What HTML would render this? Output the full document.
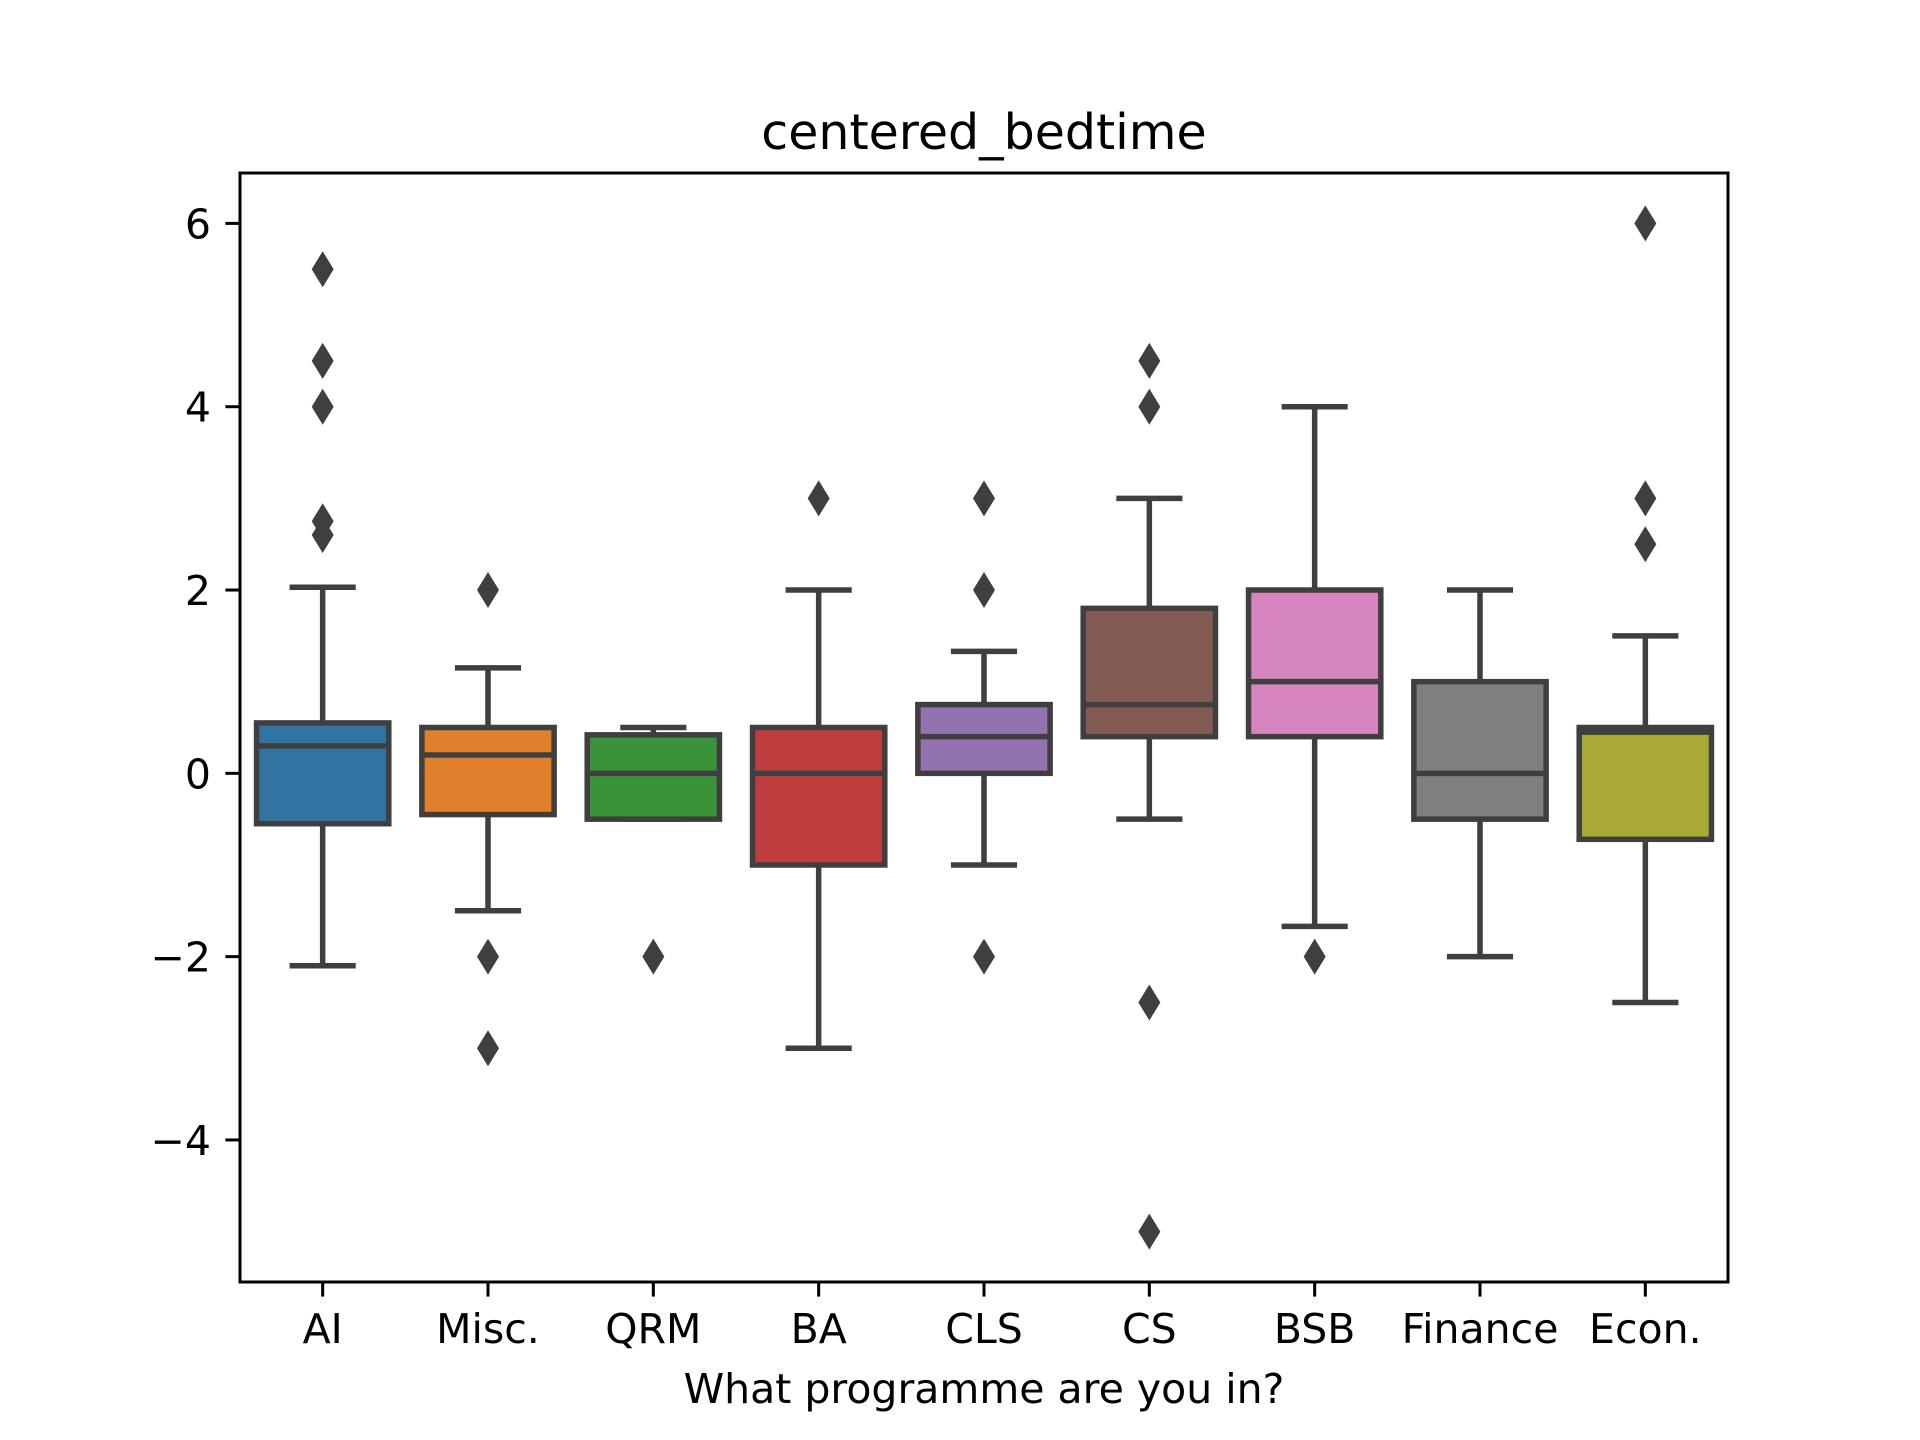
<!DOCTYPE html>
<html><head><meta charset="utf-8"><style>body{margin:0;background:#fff}svg{display:block}text{font-family:"DejaVu Sans","Liberation Sans",sans-serif;fill:#000}</style></head>
<body>
<svg id="chart" width="1920" height="1440" viewBox="0 0 1920 1440" xmlns="http://www.w3.org/2000/svg">
<rect width="1920" height="1440" fill="#fff"/>
<text x="984" y="149" font-size="49" text-anchor="middle">centered_bedtime</text>
<text x="984" y="1403" font-size="41" text-anchor="middle">What programme are you in?</text>
<g id="plot"></g>
<rect x="240" y="173" width="1488" height="1109" fill="none" stroke="#000" stroke-width="3"/>
</svg>
<script>
const categories=["AI","Misc.","QRM","BA","CLS","CS","BSB","Finance","Econ."];
const q1=[-0.55,-0.45,-0.5,-1,0,0.4,0.4,-0.5,-0.72];
const q3=[0.55,0.5,0.42,0.5,0.75,1.8,2,1,0.5];
const medians=[0.3,0.2,0,0,0.4,0.75,1,0,0.45];
const whiskerLow=[-2.1,-1.5,-0.5,-3,-1,-0.5,-1.67,-2,-2.5];
const whiskerHigh=[2.03,1.15,0.5,2,1.33,3,4,2,1.5];
const outliers=[[5.5,4.5,4,2.75,2.6],[2,-2,-3],[-2],[3],[3,2,-2],[4.5,4,-2.5,-5],[-2],[],[6,3,2.5]];
const colors=["#3274a1","#e1812c","#3a923a","#c03d3e","#9372b2","#845b53","#d684bd","#7f7f7f","#a9aa35"];
const yTicks=[-4,-2,0,2,4,6];
const yMin=-5.55,yMax=6.55;
const L=240,R=1728,T=173,B=1282;
const NS="http://www.w3.org/2000/svg";
const y=v=>B-(v-yMin)/(yMax-yMin)*(B-T);
const band=(R-L)/categories.length;
const x=i=>L+band*(i+0.5);
const g=document.getElementById('plot');
function mk(tag,attrs){const e=document.createElementNS(NS,tag);for(const k in attrs)e.setAttribute(k,attrs[k]);g.appendChild(e);return e;}
const lc="#3f3f3f",lw=5.5;
yTicks.forEach(t=>{
 const l=mk('line',{x1:L-14.6,x2:L,y1:y(t),y2:y(t),stroke:'#000','stroke-width':3});
 
 
 const tx=mk('text',{x:L-29,y:y(t)+15,'font-size':41,'text-anchor':'end'});
 tx.textContent=(t<0?'\u2212':'')+Math.abs(t);
 
 
});
categories.forEach((c,i)=>{
 const cx=x(i),hw=band*0.4,cw=band*0.2;
 const tk=mk('line',{x1:cx,x2:cx,y1:B,y2:B+14.6,stroke:'#000','stroke-width':3});
 
 
 const tl=mk('text',{x:cx,y:B+61,'font-size':41,'text-anchor':'middle'});
 tl.textContent=c;
 
 
 const w1=mk('line',{x1:cx,x2:cx,y1:y(whiskerLow[i]),y2:y(q1[i]),stroke:lc,'stroke-width':lw});
 
 
 const w2=mk('line',{x1:cx,x2:cx,y1:y(whiskerHigh[i]),y2:y(q3[i]),stroke:lc,'stroke-width':lw});
 
 
 const c1=mk('line',{x1:cx-cw,x2:cx+cw,y1:y(whiskerLow[i]),y2:y(whiskerLow[i]),stroke:lc,'stroke-width':lw});
 
 
 const c2=mk('line',{x1:cx-cw,x2:cx+cw,y1:y(whiskerHigh[i]),y2:y(whiskerHigh[i]),stroke:lc,'stroke-width':lw});
 
 
 const bx=mk('rect',{x:cx-hw,y:y(q3[i]),width:2*hw,height:y(q1[i])-y(q3[i]),fill:colors[i],stroke:lc,'stroke-width':lw});
 
 
 const md=mk('line',{x1:cx-hw,x2:cx+hw,y1:y(medians[i]),y2:y(medians[i]),stroke:lc,'stroke-width':lw});
 
 
 outliers[i].forEach(o=>{
  const yy=y(o);
  const p=mk('polygon',{points:`${cx},${yy-18} ${cx+11},${yy} ${cx},${yy+18} ${cx-11},${yy}`,fill:lc});
  
  
 });
});
</script>
</body></html>
